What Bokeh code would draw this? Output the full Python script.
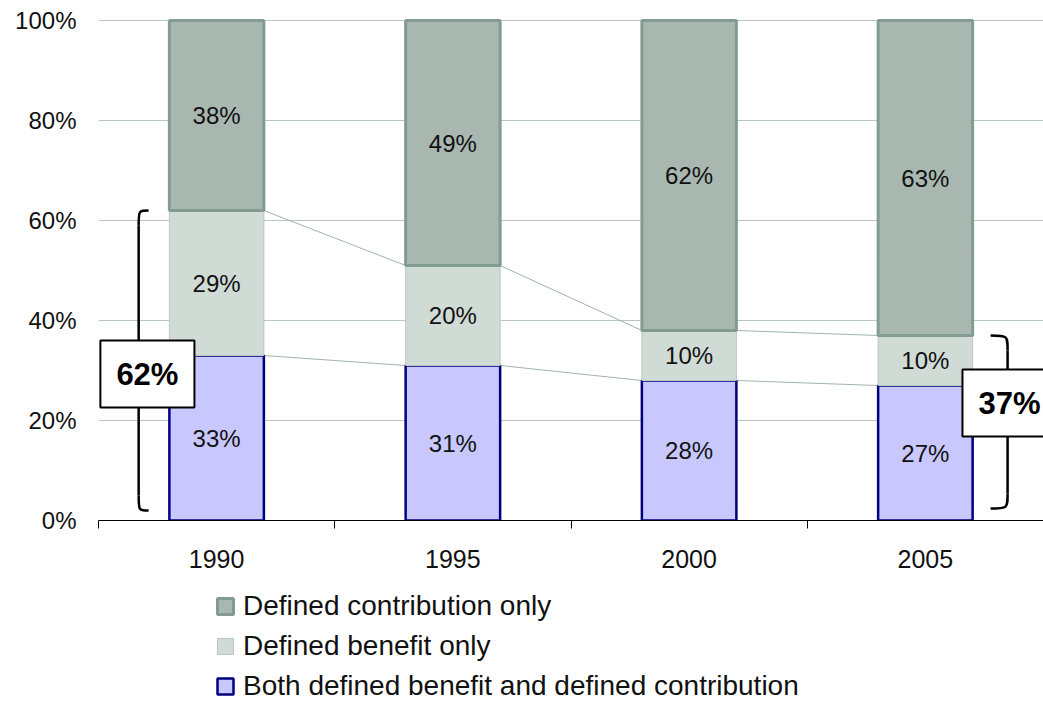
from bokeh.plotting import figure
from bokeh.layouts import column
from bokeh.models import (ColumnDataSource, FactorRange, Range1d, LinearAxis,
                          CategoricalAxis, FixedTicker, Legend, LegendItem, Label)
from bokeh.embed import file_html
from bokeh.resources import INLINE
from bokeh.core.properties import value

# ---------------- data ----------------
years = ["1990", "1995", "2000", "2005"]
both = [33, 31, 28, 27]          # Both defined benefit and defined contribution
db_only = [29, 20, 10, 10]       # Defined benefit only
dc_only = [38, 49, 62, 63]       # Defined contribution only
series_labels = ["Both defined benefit and defined contribution",
                 "Defined benefit only",
                 "Defined contribution only"]
y_ticks = [0, 20, 40, 60, 80, 100]

# ---------------- styles ----------------
FONT = "Liberation Sans"
fills = ["#c8c8ff", "#d0dbd6", "#a8b8b0"]
lines = ["#000080", "#b8c8c0", "#839c92"]
lwidths = [2.5, 1, 3]
BAR_W = 0.4

p = figure(x_range=FactorRange(*years, range_padding=0), y_range=Range1d(0, 101),
           width=1043, height=583, output_backend="svg", toolbar_location=None,
           x_axis_location=None, min_border_left=98, min_border_right=0,
           min_border_top=15, min_border_bottom=63, outline_line_color=None)

# y axis
p.yaxis.ticker = FixedTicker(ticks=y_ticks)
p.yaxis.major_label_overrides = {t: f"{t}%" for t in y_ticks}
p.yaxis.axis_line_color = None
p.yaxis.major_tick_line_color = None
p.yaxis.minor_tick_line_color = None
p.yaxis.major_label_standoff = 16
p.yaxis.major_label_text_font = FONT
p.yaxis.major_label_text_font_size = "24px"
p.yaxis.major_label_text_color = "#111111"

p.ygrid.ticker = FixedTicker(ticks=y_ticks)
p.ygrid.grid_line_color = "#b8c8c0"
p.ygrid.grid_line_width = 1
p.xgrid.visible = False

# connector lines between bars (numeric synthetic coords: factor i centre = i + 0.5)
n = len(years)
db_top = [b + d for b, d in zip(both, db_only)]
cx0 = [i + 0.5 + BAR_W / 2 for i in range(n - 1)]
cx1 = [i + 1.5 - BAR_W / 2 for i in range(n - 1)]
p.segment(x0=cx0 + cx0, x1=cx1 + cx1,
          y0=db_top[:-1] + both[:-1], y1=db_top[1:] + both[1:],
          line_color="#a0b4aa", line_width=1)

# stacked bars
src = ColumnDataSource(dict(year=years, both=both, db=db_only, dc=dc_only))
rs = p.vbar_stack(["both", "db", "dc"], x="year", width=BAR_W, source=src,
                  fill_color=fills, line_color=lines, line_width=lwidths)

# segment labels
lx, ly, lt = [], [], []
for i, y in enumerate(years):
    b, d, c = both[i], db_only[i], dc_only[i]
    for val, mid in ((b, b / 2), (d, b + d / 2), (c, b + d + c / 2)):
        lx.append(y); ly.append(mid); lt.append(f"{val}%")
p.text(x=lx, y=ly, text=lt, text_align="center", text_baseline="middle",
       text_font=value(FONT), text_font_size="24px", text_color="#111111")

# braces
def brace(xe, xs, xt, yt, yb, ym, r=3.0):
    p.bezier(x0=[xe, xs, xt, xs], y0=[yt, ym + r, ym, yb + r],
             x1=[xs, xt, xs, xe], y1=[yt - r, ym, ym - r, yb],
             cx0=[xs, xs, xs, xs], cy0=[yt, ym, ym, yb],
             cx1=[xs, xs, xs, xs], cy1=[yt, ym, ym, yb],
             line_color="black", line_width=2.5)
    p.segment(x0=[xs, xs], y0=[yt - r, ym - r], x1=[xs, xs], y1=[ym + r, yb + r],
              line_color="black", line_width=2.5)

left_total = both[0] + db_only[0]
right_total = both[-1] + db_only[-1]
brace(0.212, 0.170, 0.145, left_total, 2.0, 29.3)
brace(3.776, 3.848, 3.873, right_total, 2.4, 23.5)

for x, y, t in ((0.207, 29.3, left_total), (3.856, 23.5, right_total)):
    p.add_layout(Label(x=x, y=y, text=f"{t}%",
                       text_font=FONT, text_font_size="31px", text_font_style="bold",
                       text_align="center", text_baseline="middle", text_color="black",
                       background_fill_color="white", border_line_color="black",
                       border_line_width=2, padding=16))

# x axes: boundary ticks + category labels
num_axis = LinearAxis(ticker=FixedTicker(ticks=list(range(n + 1))),
                      major_tick_out=8, major_tick_in=0, minor_tick_line_color=None,
                      axis_line_color="black", major_tick_line_color="black",
                      major_label_text_font_size="0px", major_label_standoff=0)
p.add_layout(num_axis, "below")
cat_axis = CategoricalAxis(axis_line_color=None, major_tick_line_color=None,
                           major_tick_out=0, major_tick_in=0, major_label_standoff=21,
                           major_label_text_font=FONT, major_label_text_font_size="25px",
                           major_label_text_color="#111111")
p.add_layout(cat_axis, "below")

# legend strip under the chart: same stacked series (hidden renderers), only the
# legend entries show
pl = figure(width=1043, height=119, x_range=FactorRange(*years, range_padding=0),
            y_range=Range1d(100.5, 101.5), output_backend="svg", toolbar_location=None,
            min_border_left=98, min_border_right=0, min_border_top=0, min_border_bottom=0,
            x_axis_location=None, y_axis_location=None, outline_line_color=None)
pl.grid.visible = False
proxies = pl.vbar_stack(["both", "db", "dc"], x="year", width=BAR_W, source=src,
                        fill_color=fills, line_color=lines, line_width=lwidths)
for r in proxies:
    r.visible = False
legend = Legend(items=[LegendItem(label=series_labels[k], renderers=[proxies[k]]) for k in (2, 1, 0)],
                orientation="vertical", location=(117, 0), margin=0, padding=0,
                border_line_color=None, background_fill_alpha=0,
                label_text_font=FONT, label_text_font_size="28px",
                label_text_color="#111111", glyph_width=20, glyph_height=20,
                label_standoff=8, spacing=8)
pl.add_layout(legend)

layout = column(p, pl, spacing=0)
open("out.html", "w").write(file_html(layout, INLINE))
